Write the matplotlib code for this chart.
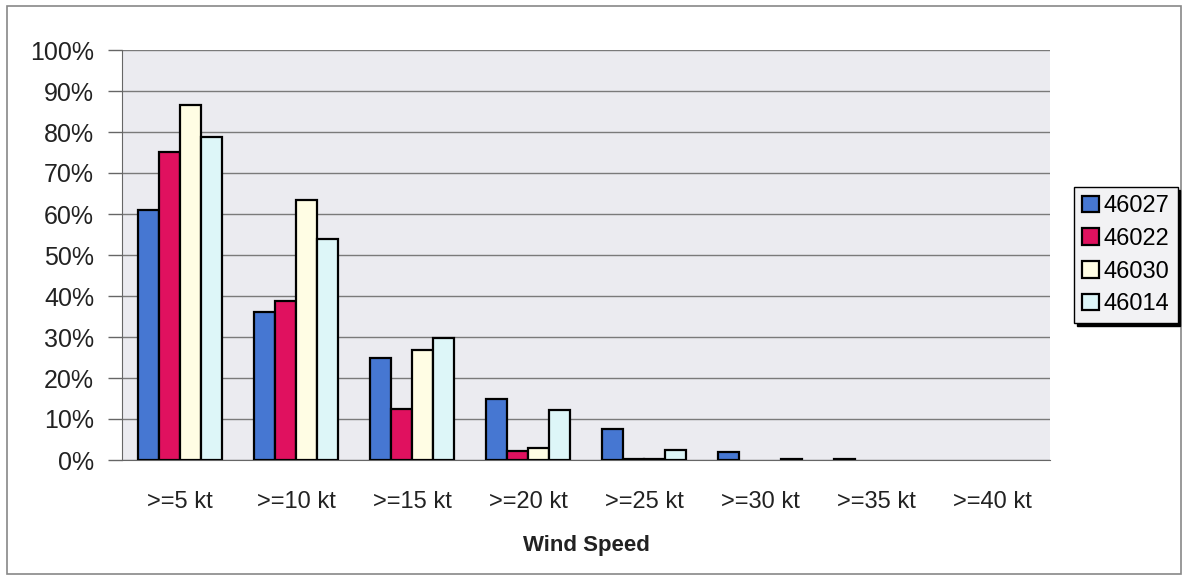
import matplotlib
matplotlib.use("Agg")
import matplotlib.pyplot as plt
import numpy as np
from matplotlib.patches import Rectangle

categories = [">=5 kt", ">=10 kt", ">=15 kt", ">=20 kt", ">=25 kt", ">=30 kt", ">=35 kt", ">=40 kt"]
series_names = ["46027", "46022", "46030", "46014"]
s46027 = [61.0, 36.2, 25.0, 14.9, 7.6, 2.0, 0.2, 0.0]
s46022 = [75.2, 38.8, 12.4, 2.1, 0.2, 0.0, 0.0, 0.0]
s46030 = [86.6, 63.4, 26.8, 2.9, 0.2, 0.0, 0.0, 0.0]
s46014 = [78.9, 53.9, 29.8, 12.2, 2.5, 0.3, 0.0, 0.0]
yticks = [0, 10, 20, 30, 40, 50, 60, 70, 80, 90, 100]
colors = ["#4677d2", "#e0115f", "#fffde4", "#ddf6f8"]

plt.rcParams['font.family'] = ['Liberation Sans', 'DejaVu Sans']

fig = plt.figure(figsize=(11.85, 5.76), dpi=100)
fig.patches.append(Rectangle((7/1185, 1 - 574/576), 1174/1185, 568/576, transform=fig.transFigure,
                             fill=False, edgecolor="#888888", linewidth=1.2))
ax = fig.add_axes([122/1185, 1 - 460/576, 928/1185, 410/576])
ax.set_facecolor("#ebebf0")

x = np.arange(len(categories))
w = 0.18
data = [s46027, s46022, s46030, s46014]
for i, (vals, c, name) in enumerate(zip(data, colors, series_names)):
    lws = [1.6 if v > 0 else 0.0 for v in vals]
    ax.bar(x + (i - 1.5) * w, vals, width=w, color=c, edgecolor="black", linewidth=lws,
           label=name, zorder=3)

ax.set_xlim(-0.5, len(categories) - 0.5)
ax.set_ylim(0, 100)
ax.set_yticks(yticks)
ax.set_yticklabels([f"{v}%" for v in yticks], fontsize=18, color="#222222")
ax.set_xticks(x)
ax.set_xticklabels(categories, fontsize=17, color="#222222")
ax.tick_params(axis='x', length=0, pad=22)
ax.tick_params(axis='y', length=10, width=1.0, color="#666666", pad=10)
ax.yaxis.grid(True, color="#7a7a7a", linewidth=1.0, zorder=0)
ax.set_axisbelow(True)
for side in ["top", "right"]:
    ax.spines[side].set_visible(False)
ax.spines["left"].set_color("#666666")
ax.spines["bottom"].set_color("#666666")
ax.set_xlabel("Wind Speed", fontsize=16, fontweight="bold", labelpad=16, color="#222222")

leg = fig.legend(loc="upper left", bbox_to_anchor=(1074/1185, 1 - 187/576), fontsize=17,
                 frameon=True, fancybox=False, shadow={'color': 'black', 'alpha': 1.0},
                 handlelength=0.7, handleheight=0.7, handletextpad=0.2, borderpad=0.35,
                 labelspacing=0.45, borderaxespad=0)
leg.get_frame().set_edgecolor("black")
leg.get_frame().set_linewidth(1.0)
leg.get_frame().set_facecolor("#f2f2f4")
for h in leg.legend_handles:
    h.set_linewidth(1.6)

fig.savefig("out.png", dpi=100)
